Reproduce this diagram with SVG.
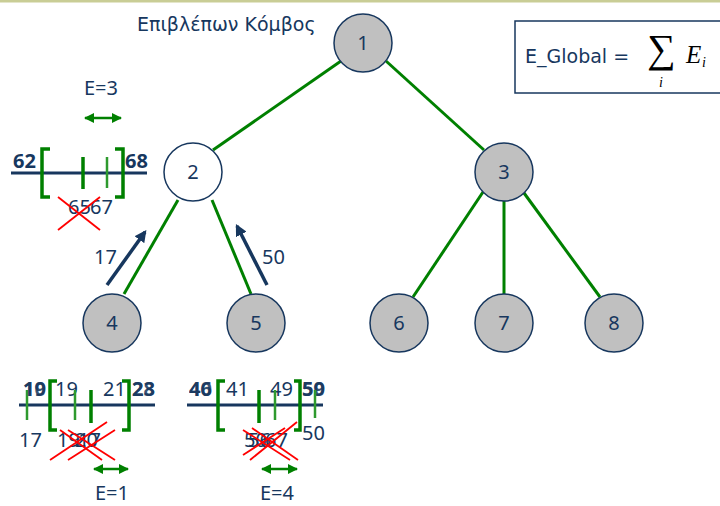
<svg xmlns="http://www.w3.org/2000/svg" width="720" height="506" viewBox="0 0 720 506">
  <defs>
    <style>
      .txt { font-family: "Noto Sans", "DejaVu Sans", sans-serif; fill: #17375e; }
      .lbl { font-size: 20px; }
      .bold { font-weight: bold; }
      .ttl { font-family: "DejaVu Sans", Verdana, sans-serif; fill: #17375e; font-size: 19px; }
      .node { fill: #c0c0c0; stroke: #17375e; stroke-width: 1.5; }
      .node.white { fill: #ffffff; }
      .edge { stroke: #008000; stroke-width: 3; fill: none; }
      .flow { stroke: #17375e; stroke-width: 3.5; fill: none; }
      .axis { stroke: #17375e; stroke-width: 3; }
      .brk { stroke: #008000; stroke-width: 3.5; fill: none; }
      .tick { stroke: #008000; stroke-width: 3.5; }
      .tick2 { stroke: #2e9a2e; stroke-width: 2.5; }
      .cross { stroke: #ff0000; stroke-width: 1.8; }
      .span { stroke: #008000; stroke-width: 2.5; }
      .math { font-family: "Liberation Serif", serif; fill: #000000; }
    </style>
    <marker id="ah" viewBox="0 0 10 10" refX="8" refY="5" markerWidth="3.4" markerHeight="3.4" orient="auto">
      <path d="M0,0 L10,5 L0,10 Z" fill="#17375e"/>
    </marker>
    <marker id="gh" viewBox="0 0 10 10" refX="9" refY="5" markerWidth="4" markerHeight="4" orient="auto-start-reverse">
      <path d="M0,0 L10,5 L0,10 Z" fill="#008000"/>
    </marker>
  </defs>

  <rect x="0" y="0" width="720" height="506" fill="#ffffff"/>
  <rect x="0" y="0" width="720" height="2.5" fill="#c9cd96"/>

  <text class="ttl" x="137" y="31">Επιβλέπων Κόμβος</text>

  <!-- global energy formula -->
  <g id="formula">
    <rect x="515" y="21" width="212" height="72" fill="#ffffff" stroke="#17375e" stroke-width="1.5"/>
    <text class="ttl" x="525" y="63">E_Global =</text>
    <text class="math" x="647" y="62" font-size="40">∑</text>
    <text class="math" x="659" y="87" font-style="italic" font-size="14">i</text>
    <text class="math" x="686" y="63" font-style="italic" font-size="25">E</text>
    <text class="math" x="702" y="67" font-style="italic" font-size="14">i</text>
  </g>

  <!-- tree edges and reported values -->
  <g id="connectors">
    <line class="edge" x1="341" y1="61" x2="213" y2="150"/>
    <line class="edge" x1="386" y1="61" x2="484" y2="150"/>
    <line class="edge" x1="178" y1="200" x2="124" y2="294"/>
    <line class="edge" x1="212" y1="200" x2="251" y2="294"/>
    <line class="edge" x1="483" y1="192" x2="413" y2="297"/>
    <line class="edge" x1="504" y1="201" x2="504" y2="294"/>
    <line class="edge" x1="524" y1="193" x2="600" y2="297"/>
    <line class="flow" x1="107" y1="285" x2="145" y2="232" marker-end="url(#ah)"/>
    <line class="flow" x1="267" y1="285" x2="237" y2="226" marker-end="url(#ah)"/>
    <text class="txt lbl" x="94" y="264">17</text>
    <text class="txt lbl" x="262" y="264">50</text>
  </g>

  <g id="n1"><circle class="node" cx="363" cy="43" r="29"/><text class="txt lbl" x="363" y="50" text-anchor="middle">1</text></g>
  <g id="n2"><circle class="node white" cx="193" cy="172" r="29"/><text class="txt lbl" x="193" y="179" text-anchor="middle">2</text></g>
  <g id="n3"><circle class="node" cx="504" cy="172" r="29"/><text class="txt lbl" x="504" y="179" text-anchor="middle">3</text></g>
  <g id="n4"><circle class="node" cx="112" cy="323" r="29"/><text class="txt lbl" x="112" y="330" text-anchor="middle">4</text></g>
  <g id="n5"><circle class="node" cx="256" cy="323" r="29"/><text class="txt lbl" x="256" y="330" text-anchor="middle">5</text></g>
  <g id="n6"><circle class="node" cx="399" cy="323" r="29"/><text class="txt lbl" x="399" y="330" text-anchor="middle">6</text></g>
  <g id="n7"><circle class="node" cx="504" cy="323" r="29"/><text class="txt lbl" x="504" y="330" text-anchor="middle">7</text></g>
  <g id="n8"><circle class="node" cx="614" cy="323" r="29"/><text class="txt lbl" x="614" y="330" text-anchor="middle">8</text></g>

  <!-- interval at node 2 -->
  <g id="range2">
    <text class="txt lbl" x="84" y="95">E=3</text>
    <line class="span" x1="85" y1="118" x2="121" y2="118" marker-start="url(#gh)" marker-end="url(#gh)"/>
    <line class="axis" x1="11" y1="173" x2="147" y2="173"/>
    <text class="txt lbl bold" x="13" y="168">62</text>
    <text class="txt lbl bold" x="125" y="168">68</text>
    <path class="brk" d="M50,149 H42 V197 H50"/>
    <path class="brk" d="M115,149 H123 V197 H115"/>
    <line class="tick" x1="83" y1="157" x2="83" y2="189"/>
    <line class="tick2" x1="107" y1="157" x2="107" y2="188"/>
    <text class="txt lbl" x="68" y="214">65</text>
    <text class="txt lbl" x="90" y="214">67</text>
    <line class="cross" x1="58" y1="197" x2="100" y2="230"/>
    <line class="cross" x1="58" y1="230" x2="100" y2="197"/>
  </g>

  <!-- interval at node 4 -->
  <g id="range4">
    <line class="axis" x1="19" y1="405" x2="155" y2="405"/>
    <line class="tick2" x1="27" y1="390" x2="27" y2="420"/>
    <text class="txt lbl bold" x="23" y="396" opacity="0.85">10</text>
    <text class="txt lbl bold" x="23" y="396" opacity="0.85">19</text>
    <path class="brk" d="M57,381 H50 V430 H57"/>
    <path class="brk" d="M122,381 H129 V430 H122"/>
    <text class="txt lbl" x="55" y="396">19</text>
    <text class="txt lbl" x="103" y="396">21</text>
    <text class="txt lbl bold" x="132" y="396" opacity="0.85">23</text>
    <text class="txt lbl bold" x="132" y="396" opacity="0.85">28</text>
    <line class="tick2" x1="75" y1="390" x2="75" y2="420"/>
    <line class="tick" x1="91" y1="390" x2="91" y2="423"/>
    <text class="txt lbl" x="19" y="447">17</text>
    <text class="txt lbl" x="57" y="447">19</text>
    <text class="txt lbl" x="75" y="447">20</text>
    <text class="txt lbl" x="78" y="447">17</text>
    <line class="cross" x1="50" y1="460" x2="107" y2="422"/>
    <line class="cross" x1="60" y1="430" x2="102" y2="460"/>
    <line class="cross" x1="68" y1="460" x2="115" y2="430"/>
    <line class="cross" x1="68" y1="430" x2="115" y2="460"/>
    <line class="span" x1="94" y1="469" x2="128" y2="469" marker-start="url(#gh)" marker-end="url(#gh)"/>
    <text class="txt lbl" x="95" y="500">E=1</text>
  </g>

  <!-- interval at node 5 -->
  <g id="range5">
    <line class="axis" x1="187" y1="405" x2="323" y2="405"/>
    <text class="txt lbl bold" x="189" y="396" opacity="0.85">46</text>
    <text class="txt lbl bold" x="189" y="396" opacity="0.85">40</text>
    <path class="brk" d="M225,381 H218 V430 H225"/>
    <path class="brk" d="M294,381 H300 V430 H294"/>
    <text class="txt lbl" x="226" y="396">41</text>
    <text class="txt lbl" x="270" y="396">49</text>
    <text class="txt lbl bold" x="302" y="396" opacity="0.85">59</text>
    <text class="txt lbl bold" x="302" y="396" opacity="0.85">50</text>
    <line class="tick" x1="259" y1="390" x2="259" y2="423"/>
    <line class="tick2" x1="275" y1="390" x2="275" y2="420"/>
    <line class="tick2" x1="315" y1="390" x2="315" y2="418"/>
    <text class="txt lbl" x="302" y="440">50</text>
    <text class="txt lbl" x="244" y="447">50</text>
    <text class="txt lbl" x="248" y="447">56</text>
    <text class="txt lbl" x="265" y="447">67</text>
    <line class="cross" x1="243" y1="430" x2="290" y2="460"/>
    <line class="cross" x1="250" y1="460" x2="297" y2="422"/>
    <line class="cross" x1="252" y1="428" x2="298" y2="460"/>
    <line class="cross" x1="243" y1="455" x2="285" y2="428"/>
    <line class="span" x1="262" y1="469" x2="297" y2="469" marker-start="url(#gh)" marker-end="url(#gh)"/>
    <text class="txt lbl" x="260" y="500">E=4</text>
  </g>
</svg>
